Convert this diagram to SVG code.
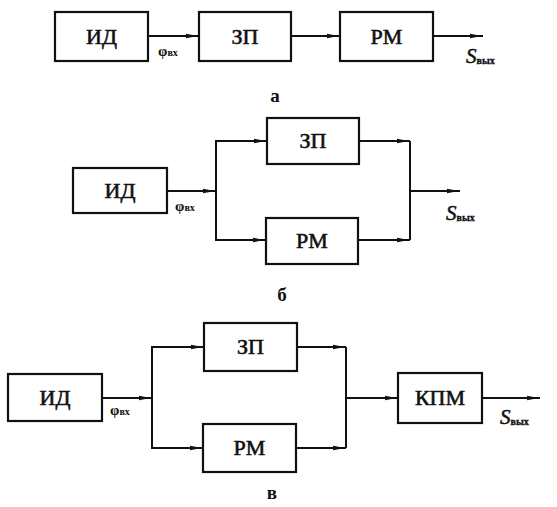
<svg xmlns="http://www.w3.org/2000/svg" width="557" height="507" viewBox="0 0 557 507">
<defs>
<marker id="ah" viewBox="0 0 12 6" refX="13" refY="3" markerWidth="12" markerHeight="6" markerUnits="userSpaceOnUse" orient="auto">
<path d="M0,0.7 L12,3 L0,5.3 Z" fill="#111"/>
</marker>
<style>
rect.b{fill:#fff;stroke:#111;stroke-width:2.2}
text{font-family:'Liberation Serif','Times New Roman',serif;fill:#111}
.t{font-size:22px;text-anchor:middle;stroke:#111;stroke-width:0.6}
.lbl{font-size:19px;font-weight:bold;text-anchor:middle}
.phi{font-size:15px;font-weight:bold}
.s{font-size:21px;font-style:italic;stroke:#111;stroke-width:0.5}
.sub{font-size:10px;font-style:normal;font-weight:bold;stroke-width:0.3}
#conn path{fill:none;stroke:#111;stroke-width:2}
</style>
</defs>
<g id="conn">
<path d="M148 36 H199" marker-end="url(#ah)"/>
<path d="M291 36 H340" marker-end="url(#ah)"/>
<path d="M433 36 H483" marker-end="url(#ah)"/>
<path d="M167 191 H216" marker-end="url(#ah)"/>
<path d="M216 240 V141 H267" marker-end="url(#ah)"/>
<path d="M216 190 V240 H266" marker-end="url(#ah)"/>
<path d="M359 141 H410" marker-end="url(#ah)"/>
<path d="M358 240 H410" marker-end="url(#ah)"/>
<path d="M410 141 V240"/>
<path d="M410 191 H460" marker-end="url(#ah)"/>
<path d="M102 398 H152" marker-end="url(#ah)"/>
<path d="M152 448 V347 H204" marker-end="url(#ah)"/>
<path d="M152 398 V448 H203" marker-end="url(#ah)"/>
<path d="M297 347 H346" marker-end="url(#ah)"/>
<path d="M296 448 H346" marker-end="url(#ah)"/>
<path d="M346 347 V448"/>
<path d="M346 398 H398" marker-end="url(#ah)"/>
<path d="M482 398 H540" marker-end="url(#ah)"/>
</g>
<g id="a-id"><rect class="b" x="55" y="12" width="93" height="49"/><text class="t" x="101.5" y="44">ИД</text></g>
<g id="a-zp"><rect class="b" x="199" y="12" width="92" height="49"/><text class="t" x="245" y="44">ЗП</text></g>
<g id="a-rm"><rect class="b" x="340" y="12" width="93" height="49"/><text class="t" x="386.5" y="44">РМ</text></g>
<text class="phi" x="158" y="56">φ<tspan class="sub">вх</tspan></text>
<text class="s" x="466" y="63">S<tspan class="sub" dy="1">вых</tspan></text>
<text class="lbl" x="275" y="102">а</text>

<g id="b-id"><rect class="b" x="73" y="168" width="94" height="45"/><text class="t" x="120" y="198">ИД</text></g>
<g id="b-zp"><rect class="b" x="267" y="118" width="92" height="46"/><text class="t" x="313" y="148">ЗП</text></g>
<g id="b-rm"><rect class="b" x="266" y="218" width="92" height="46"/><text class="t" x="312" y="248">РМ</text></g>
<text class="phi" x="175" y="211">φ<tspan class="sub">вх</tspan></text>
<text class="s" x="446" y="220">S<tspan class="sub" dy="1">вых</tspan></text>
<text class="lbl" x="282" y="301">б</text>

<g id="c-id"><rect class="b" x="8" y="374" width="94" height="47"/><text class="t" x="55" y="405">ИД</text></g>
<g id="c-zp"><rect class="b" x="204" y="323" width="93" height="48"/><text class="t" x="250.5" y="354">ЗП</text></g>
<g id="c-rm"><rect class="b" x="203" y="424" width="93" height="48"/><text class="t" x="249.5" y="455">РМ</text></g>
<g id="c-kpm"><rect class="b" x="398" y="373" width="84" height="50"/><text class="t" x="440" y="405">КПМ</text></g>
<text class="phi" x="110" y="415">φ<tspan class="sub">вх</tspan></text>
<text class="s" x="500" y="424">S<tspan class="sub" dy="1">вых</tspan></text>
<text class="lbl" x="272" y="499">в</text>
</svg>
